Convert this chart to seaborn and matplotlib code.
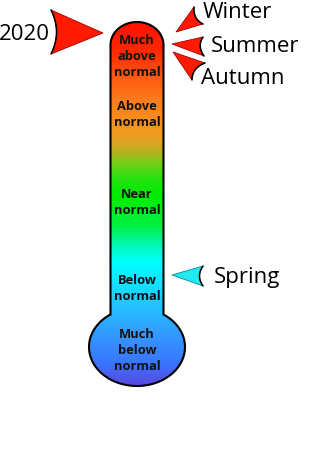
import numpy as np
import matplotlib
matplotlib.use("Agg")
import matplotlib.pyplot as plt
import seaborn as sns
from matplotlib.path import Path
from matplotlib.patches import PathPatch, Polygon
from matplotlib.colors import LinearSegmentedColormap

# ---------------- data ----------------
categories = ["Much above normal", "Above normal", "Near normal",
              "Below normal", "Much below normal"]
category_lines = [["Much", "above", "normal"], ["Above", "normal"],
                  ["Near", "normal"], ["Below", "normal"],
                  ["Much", "below", "normal"]]
markers = ["2020", "Winter", "Summer", "Autumn", "Spring"]
marker_category = ["Much above normal", "Much above normal", "Much above normal",
                   "Much above normal", "Below normal"]

# ---------------- layout (pixel space) ----------------
W, H = 330, 451
sns.set_theme(style="white")
plt.rcParams['font.family'] = ['Open Sans', 'DejaVu Sans']

fig = plt.figure(figsize=(W / 100, H / 100), dpi=100)
ax = fig.add_axes([0, 0, 1, 1])
ax.set_xlim(0, W)
ax.set_ylim(H, 0)
ax.axis("off")

# thermometer geometry
xl, xr = 110.5, 163.5
tcx = (xl + xr) / 2
top_cy, top_ry = 45.0, 23.0
trx = (xr - xl) / 2
bcx, bcy, brx, bry = 137.0, 347.0, 48.0, 39.0

yj = bcy - bry * np.sqrt(1 - ((xr - bcx) / brx) ** 2)
pts = [(xl, yj), (xl, top_cy)]
t = np.linspace(np.pi, 0, 60)
pts += list(zip(tcx + trx * np.cos(t), top_cy - top_ry * np.sin(t)))
pts += [(xr, top_cy), (xr, yj)]
a_r = np.arctan2((yj - bcy) / bry, (xr - bcx) / brx)
a_l = np.arctan2((yj - bcy) / bry, (xl - bcx) / brx) + 2 * np.pi
a = np.linspace(a_r, a_l, 120)
pts += list(zip(bcx + brx * np.cos(a), bcy + bry * np.sin(a)))
pts.append((xl, yj))
verts = np.array(pts)
codes = [Path.MOVETO] + [Path.LINETO] * (len(verts) - 2) + [Path.CLOSEPOLY]
therm_path = Path(verts, codes)

# gradient
stops = [(22, "#ff1000"), (50, "#ff2800"), (75, "#ff5812"), (100, "#fb7c1c"),
         (125, "#f79420"), (140, "#e4a222"), (150, "#bcae22"), (162, "#7ccc1a"),
         (178, "#28e010"), (195, "#00ee00"), (225, "#00f040"), (245, "#00f8b0"),
         (262, "#00ffff"), (300, "#20ccff"), (335, "#3399ff"), (365, "#3a74ff"),
         (386, "#5a48e0")]
y0, y1 = stops[0][0], stops[-1][0]
cmap = LinearSegmentedColormap.from_list(
    "therm", [((y - y0) / (y1 - y0), c) for y, c in stops])
grad = np.linspace(0, 1, 400).reshape(-1, 1)
im = ax.imshow(grad, cmap=cmap, aspect="auto",
               extent=[80, 195, y1, y0], origin="upper", zorder=1)
outline = PathPatch(therm_path, facecolor="none", edgecolor="black",
                    lw=1.5, zorder=3, transform=ax.transData)
ax.add_patch(outline)
im.set_clip_path(outline)

# category labels inside the thermometer
cat_y = {"Much above normal": 56, "Above normal": 115, "Near normal": 203,
         "Below normal": 288, "Much below normal": 350}
for cat, lines in zip(categories, category_lines):
    ax.text(tcx, cat_y[cat], "\n".join(lines), ha="center", va="center",
            fontsize=9.3, fontweight="bold", color="#111111",
            linespacing=1.3, zorder=4)

# arrows (tip, back-top, back-bottom, back-control) and label anchors
arrow_geom = {
    "2020":   dict(tip=(103, 33), b1=(51, 10), b2=(51, 54), c=(62, 32),
                   txt=(50, 34), ha="right", color="#ff1a00"),
    "Winter": dict(tip=(176, 32), b1=(194, 7), b2=(203, 24), c=(193, 19),
                   txt=(203, 13), ha="left", color="#ff1a00"),
    "Summer": dict(tip=(172, 44), b1=(203, 37), b2=(204, 56), c=(197, 46),
                   txt=(211, 46), ha="left", color="#ff1a00"),
    "Autumn": dict(tip=(173, 52), b1=(205, 63), b2=(192, 80), c=(192, 68),
                   txt=(201, 79), ha="left", color="#ff1a00"),
    "Spring": dict(tip=(172, 275), b1=(203, 266), b2=(203, 286), c=(196, 276),
                   txt=(214, 277), ha="left", color="#22e8f0"),
}


def bez(p0, c, p2, n=30):
    s = np.linspace(0, 1, n)[:, None]
    p0, c, p2 = map(np.array, (p0, c, p2))
    return (1 - s) ** 2 * p0 + 2 * (1 - s) * s * c + s ** 2 * p2


for m, cat in zip(markers, marker_category):
    g = arrow_geom[m]
    back = bez(g["b1"], g["c"], g["b2"])
    poly = np.vstack([[g["tip"]], back])
    edge = "#a00000" if g["color"] != "#22e8f0" else "#0090a0"
    ax.add_patch(Polygon(poly, closed=True, facecolor=g["color"],
                         edgecolor=edge, lw=0.6, zorder=5))
    ax.plot(back[:, 0], back[:, 1], color="black", lw=1.1, zorder=6,
            solid_capstyle="round")
    ax.text(g["txt"][0], g["txt"][1], m, ha=g["ha"], va="center",
            fontsize=16, color="black", zorder=6)

fig.savefig("out.png", dpi=100)
